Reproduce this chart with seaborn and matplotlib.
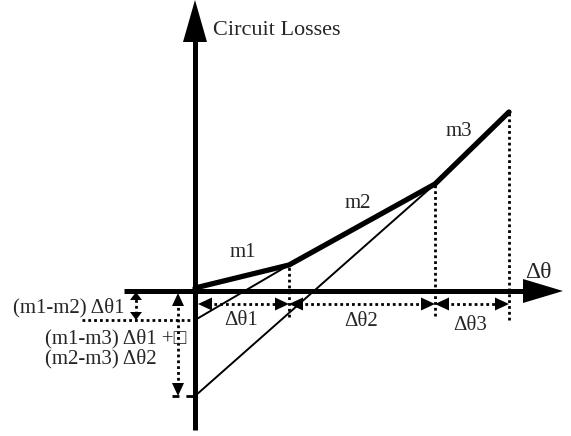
import matplotlib
matplotlib.use("Agg")
import matplotlib.pyplot as plt
import seaborn as sns

# piecewise-linear losses vs delta-theta (units ~ pixels from origin)
theta = [0, 94, 240, 314]
losses = [3, 26, 107, 179]
slope_names = ["m1", "m2", "m3"]
# back-extensions of m2 and m3 to the loss axis
intercept_m2 = -29
intercept_m3 = -105

sns.set_style("white")
plt.rcParams["font.family"] = ["Liberation Serif", "DejaVu Sans"]

fig = plt.figure(figsize=(5.71, 4.36), dpi=100)
ax = fig.add_axes([0, 0, 1, 1])
ax.set_xlim(-195, 376)
ax.set_ylim(-145, 291)
ax.axis("off")


def head(tip, d, length, half):
    x, y = tip
    dx, dy = d
    bx, by = x - dx * length, y - dy * length
    px, py = -dy, dx
    xs = [x, bx + px * half, bx - px * half]
    ys = [y, by + py * half, by - py * half]
    ax.fill(xs, ys, color="black", lw=0, zorder=5)


dot = (0, (1, 1.1))

# axes with arrows
ax.plot([-71, 335], [0, 0], color="black", lw=3.6, solid_capstyle="butt")
head((368, 0), (1, 0), 40, 12)
ax.plot([0, 0], [-139, 255], color="black", lw=3.6, solid_capstyle="butt")
head((0, 291), (0, 1), 42, 12)

# losses curve (thick) and extension lines (thin)
sns.lineplot(x=theta, y=losses, ax=ax, color="black", lw=3.8, zorder=4)
sns.lineplot(x=[0, theta[1]], y=[intercept_m2, losses[1]], ax=ax, color="black", lw=1.4)
sns.lineplot(x=[0, theta[2]], y=[intercept_m3, losses[2]], ax=ax, color="black", lw=1.4)

# dotted drop lines at the breakpoints
ax.vlines(theta[1], -26, losses[1], colors="black", lw=2, linestyles=[dot])
ax.vlines(theta[2], -25, losses[2], colors="black", lw=2, linestyles=[dot])
ax.vlines(theta[3], -29, losses[3], colors="black", lw=2, linestyles=[dot])

# delta-theta spans
y_span = -13
starts = [3, theta[1], theta[2]]
for a, b in zip(starts, theta[1:]):
    ax.hlines(y_span, a + 10, b - 10, colors="black", lw=2, linestyles=[dot])
    head((a, y_span), (-1, 0), 14, 6.5)
    head((b, y_span), (1, 0), 14, 6.5)

# intercept markers on the left
ax.hlines(intercept_m2, -113, 0, colors="black", lw=2, linestyles=[dot])
ax.hlines(intercept_m3, -23, 0, colors="black", lw=2, linestyles=[(0, (2.5, 2.5))])
ax.vlines(-59, intercept_m2 + 6, -6, colors="black", lw=2, linestyles=[dot])
head((-59, -1), (0, 1), 8, 6)
head((-59, intercept_m2), (0, -1), 8, 6)
ax.vlines(-17, intercept_m3 + 10, -12, colors="black", lw=2, linestyles=[dot])
head((-17, -2), (0, 1), 13, 6)
head((-17, intercept_m3), (0, -1), 13, 6)

# text
fs = 15
ax.text(18, 256, "Circuit Losses", fontsize=16, ha="left", va="baseline")
ax.text(35, 34, slope_names[0], fontsize=fs, ha="left", va="baseline")
ax.text(150, 83, slope_names[1], fontsize=fs, ha="left", va="baseline")
ax.text(251, 155, slope_names[2], fontsize=fs, ha="left", va="baseline")
ax.text(330, 13, "Δθ", fontsize=17, ha="left", va="baseline")
ax.text(46, -34, "Δθ1", fontsize=fs, ha="center", va="baseline")
ax.text(166, -35, "Δθ2", fontsize=fs, ha="center", va="baseline")
ax.text(275, -39, "Δθ3", fontsize=fs, ha="center", va="baseline")
ax.text(-182, -21, "(m1-m2) Δθ1", fontsize=fs, ha="left", va="baseline")
ax.text(-150, -52, "(m1-m3) Δθ1 +\u25a1", fontsize=fs, ha="left", va="baseline")
ax.text(-150, -72, "(m2-m3) Δθ2", fontsize=fs, ha="left", va="baseline")

fig.savefig("out.png", dpi=100)
